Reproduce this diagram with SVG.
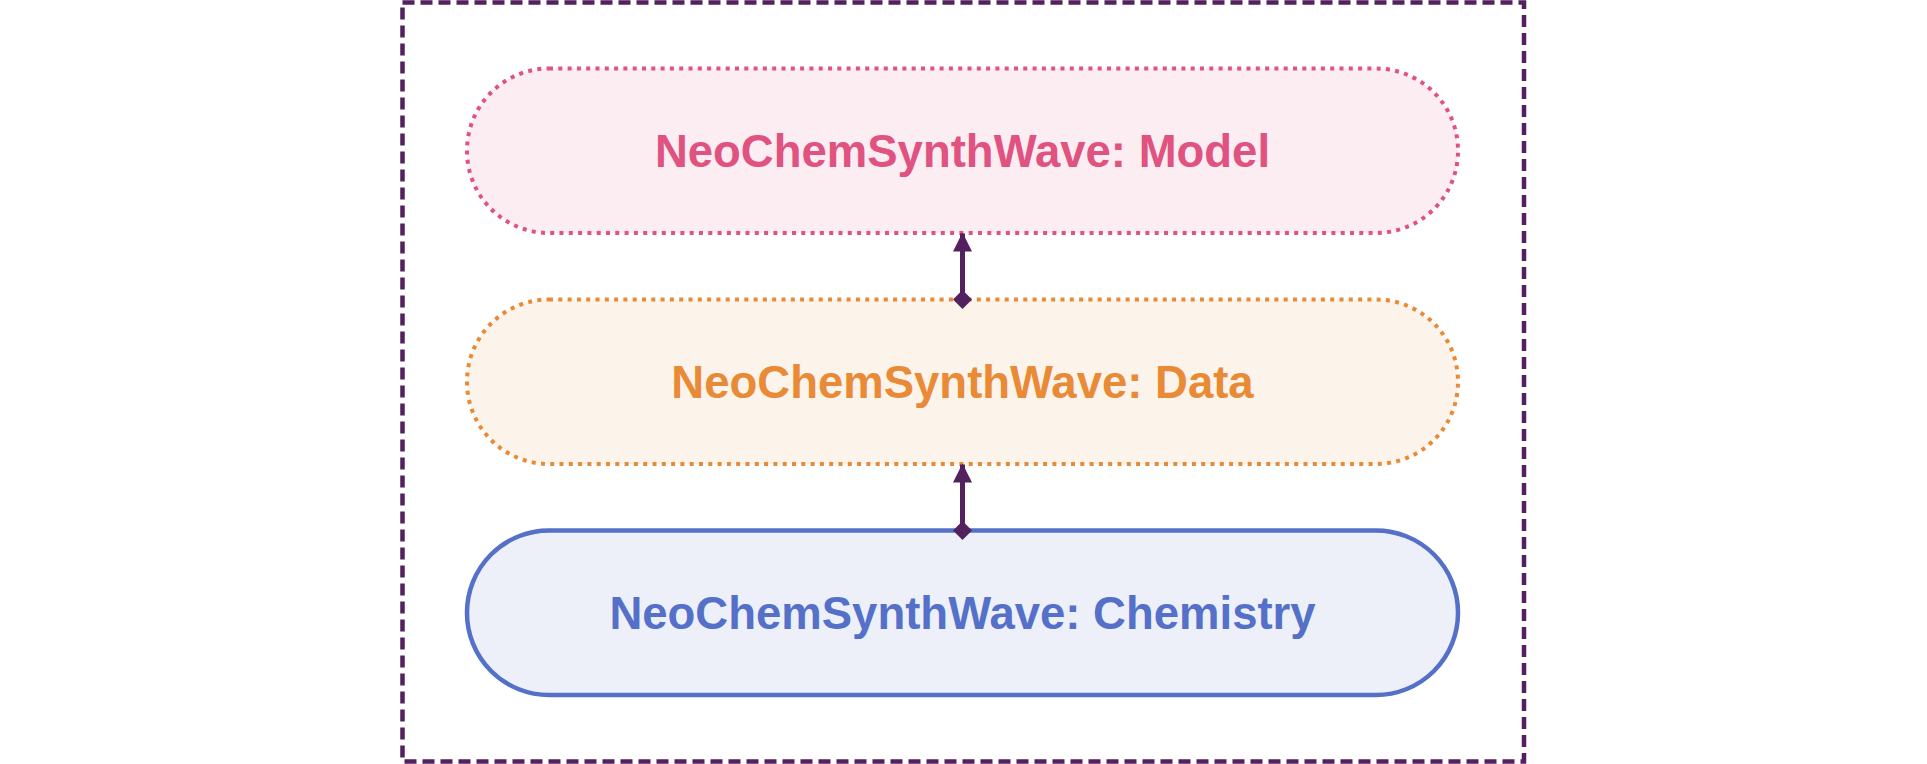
<svg xmlns="http://www.w3.org/2000/svg" width="1927" height="764" viewBox="0 0 1927 764">
<style>
.lbl{font-family:"Liberation Sans",Arial,sans-serif;font-weight:bold;font-size:45.5px;text-anchor:middle}
.conn{stroke:#52215E;stroke-width:5;fill:none}
</style>
<defs>
<marker id="arr" viewBox="0 0 10 10" refX="9.5" refY="5" markerWidth="3.8" markerHeight="3.8" orient="auto" markerUnits="strokeWidth">
<path d="M0,0 L10,5 L0,10 Z" fill="#52215E"/>
</marker>
<marker id="dia" viewBox="0 0 10 10" refX="5" refY="5" markerWidth="3.8" markerHeight="3.8" orient="auto" markerUnits="strokeWidth">
<path d="M0,5 L5,0 L10,5 L5,10 Z" fill="#52215E"/>
</marker>
</defs>
<rect x="0" y="0" width="1927" height="764" fill="#ffffff"/>
<g id="container">
<rect x="402.5" y="2.5" width="1121.5" height="759" fill="none" stroke="#52215E" stroke-width="4.5" stroke-dasharray="12 6"/>
</g>
<g id="model">
<rect x="467" y="68.5" width="991" height="164.5" rx="82" ry="82" fill="#FCEDF2" stroke="#E0527F" stroke-width="4" stroke-dasharray="4 5.3"/>
<text class="lbl" x="962.5" y="167" fill="#E0527F">NeoChemSynthWave: Model</text>
</g>
<g id="data">
<rect x="467" y="299.5" width="991" height="164.5" rx="82" ry="82" fill="#FCF3EA" stroke="#E88A36" stroke-width="4" stroke-dasharray="4 5.3"/>
<text class="lbl" x="962.5" y="398" fill="#E88A36">NeoChemSynthWave: Data</text>
</g>
<g id="chemistry">
<rect x="467" y="530.5" width="991" height="164.5" rx="82" ry="82" fill="#EDF0F8" stroke="#5570C8" stroke-width="4.5"/>
<text class="lbl" x="962.5" y="629" fill="#5570C8">NeoChemSynthWave: Chemistry</text>
</g>
<g id="connectors">
<line class="conn" x1="962.5" y1="299.5" x2="962.5" y2="233.5" marker-start="url(#dia)" marker-end="url(#arr)"/>
<line class="conn" x1="962.5" y1="530.5" x2="962.5" y2="464.5" marker-start="url(#dia)" marker-end="url(#arr)"/>
</g>
</svg>
